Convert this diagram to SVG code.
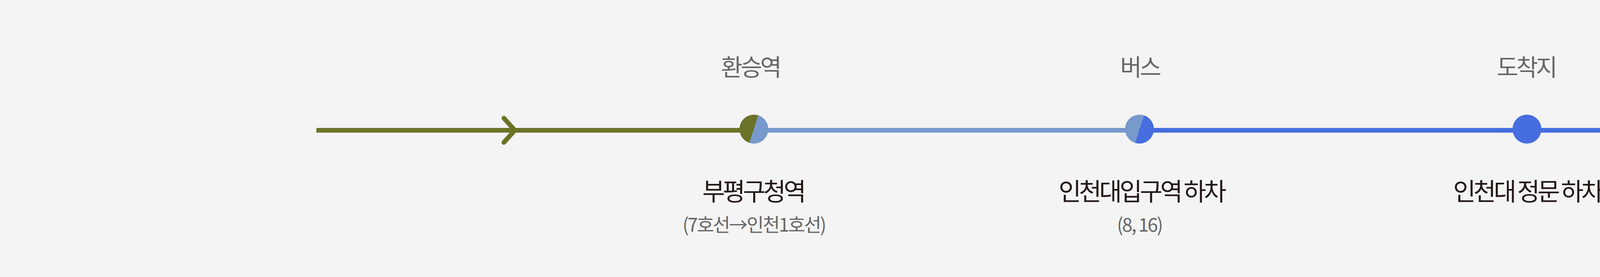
<svg xmlns="http://www.w3.org/2000/svg" width="5833" height="708" viewBox="0 0 5833 708">
<style>
.lbl{font-family:"Noto Sans CJK KR","Noto Sans",sans-serif;text-anchor:middle}
.top{font-size:60px;fill:#666666;letter-spacing:-5px}
.main{font-size:63px;fill:#231815;letter-spacing:-6px}
.sub{font-size:48px;fill:#666666;letter-spacing:-3px}
.seg{stroke-width:12;fill:none}
</style>
<rect width="5833" height="708" fill="#f4f4f4"/>
<g id="connectors">
<line class="seg" x1="810" y1="333" x2="1930" y2="333" stroke="#6b7329"/>
<line class="seg" x1="1930" y1="333" x2="2917" y2="333" stroke="#7899cc"/>
<line class="seg" x1="2917" y1="333" x2="5013" y2="333" stroke="#466ee0"/>
<polyline points="1290,302 1318,333 1290,364" fill="none" stroke="#6b7329" stroke-width="12" stroke-linecap="round" stroke-linejoin="round"/>
</g>
<g id="node-transfer">
<path d="M1941.4,294.8 A37,37 0 0 0 1918.6,365.2 Z" fill="#6b7329"/>
<path d="M1941.4,294.8 A37,37 0 0 1 1918.6,365.2 Z" fill="#7899cc"/>
<text class="lbl top" x="1921" y="194">환승역</text>
<text class="lbl main" x="1928" y="512">부평구청역</text>
<text class="lbl sub" x="1930" y="592">(7호선→인천1호선)</text>
</g>
<g id="node-bus">
<path d="M2928.4,294.8 A37,37 0 0 0 2905.6,365.2 Z" fill="#7899cc"/>
<path d="M2928.4,294.8 A37,37 0 0 1 2905.6,365.2 Z" fill="#466ee0"/>
<text class="lbl top" x="2918" y="194">버스</text>
<text class="lbl main" x="2922" y="512">인천대입구역 하차</text>
<text class="lbl sub" x="2917" y="592">(8, 16)</text>
</g>
<g id="node-destination">
<circle cx="3909" cy="330" r="37" fill="#466ee0"/>
<text class="lbl top" x="3907" y="194">도착지</text>
<text class="lbl main" x="3910" y="512">인천대 정문 하차</text>
</g>
</svg>
